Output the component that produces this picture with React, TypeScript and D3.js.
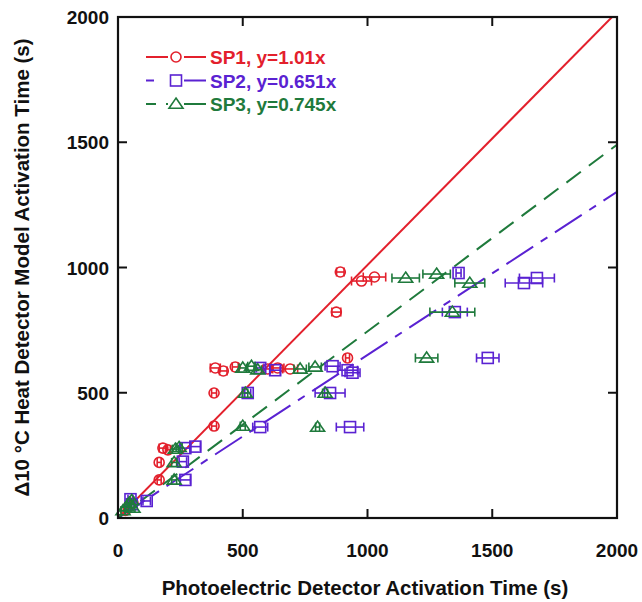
import React from "react";
import * as d3 from "d3";

// ---- data (x, y, x half error) in seconds ----
const sp1X = [891, 976, 1028, 875, 920, 390, 422, 470, 600, 640, 690, 385, 385, 180, 200, 165, 165, 30, 45, 60];
const sp1Y = [982, 946, 962, 822, 639, 599, 587, 603, 595, 599, 595, 499, 367, 279, 272, 222, 152, 30, 50, 60];
const sp1E = [15, 40, 45, 18, 8, 20, 15, 12, 20, 25, 30, 10, 10, 15, 10, 8, 8, 8, 8, 8];

const sp2X = [1365, 1627, 1679, 1350, 1482, 570, 630, 860, 920, 940, 520, 850, 570, 930, 270, 310, 260, 270, 115, 55, 50];
const sp2Y = [978, 938, 958, 822, 639, 599, 590, 606, 590, 580, 499, 499, 363, 363, 279, 285, 225, 152, 68, 55, 75];
const sp2E = [10, 75, 70, 50, 45, 15, 20, 30, 40, 30, 12, 60, 30, 55, 20, 20, 15, 20, 15, 10, 10];

const sp3X = [1153, 1277, 1410, 1340, 1237, 500, 535, 560, 730, 790, 510, 830, 500, 800, 230, 245, 225, 225, 20, 35, 45, 55, 60];
const sp3Y = [958, 974, 938, 822, 639, 599, 606, 592, 595, 603, 499, 499, 367, 363, 275, 282, 222, 152, 30, 45, 60, 70, 40];
const sp3E = [55, 55, 60, 90, 45, 15, 15, 15, 25, 25, 10, 10, 10, 8, 12, 12, 10, 10, 8, 8, 8, 8, 8];

const seriesNames = ["SP1, y=1.01x", "SP2, y=0.651x", "SP3, y=0.745x"];
const slopes = [1.01, 0.651, 0.745];
const ticks = [0, 500, 1000, 1500, 2000];

const colors = ["#e3202c", "#5a22d2", "#1f7a3c"];
const dashes = ["", "32 9 8 9", "18 10"];

const W = 642, H = 602;
const L = 118, R = 617, T = 17, B = 518;

function Marker({ kind, cx, cy, color }: { kind: number; cx: number; cy: number; color: string }) {
  const sw = 1.6;
  if (kind === 0) return <circle cx={cx} cy={cy} r={5} fill="none" stroke={color} strokeWidth={sw} />;
  if (kind === 1) return <rect x={cx - 5.5} y={cy - 5.5} width={11} height={11} fill="none" stroke={color} strokeWidth={sw} />;
  const s = 7;
  return (
    <path
      d={`M${cx},${cy - s * 0.85} L${cx + s},${cy + s * 0.6} L${cx - s},${cy + s * 0.6} Z`}
      fill="none"
      stroke={color}
      strokeWidth={sw}
    />
  );
}

export default function App() {
  const x = d3.scaleLinear().domain([0, 2000]).range([L, R]);
  const y = d3.scaleLinear().domain([0, 2000]).range([B, T]);

  const series = [
    { xs: sp1X, ys: sp1Y, es: sp1E },
    { xs: sp2X, ys: sp2Y, es: sp2E },
    { xs: sp3X, ys: sp3Y, es: sp3E },
  ];

  const line = d3
    .line<[number, number]>()
    .x((d) => x(d[0]))
    .y((d) => y(d[1]));

  const font = "Arial, 'Liberation Sans', Helvetica, sans-serif";
  const tickLen = 9;

  return (
    <svg
      width={W}
      height={H}
      style={{ position: "fixed", left: 0, top: 0, background: "#fff" }}
      fontFamily={font}
    >
      <defs>
        <clipPath id="plotclip">
          <rect x={L} y={T} width={R - L} height={B - T} />
        </clipPath>
      </defs>
      <rect x={0} y={0} width={W} height={H} fill="#fff" />

      {/* fit lines */}
      <g clipPath="url(#plotclip)">
        {slopes.map((s, i) => (
          <path
            key={i}
            d={line([
              [0, 0],
              [2000, 2000 * s],
            ]) as string}
            fill="none"
            stroke={colors[i]}
            strokeWidth={2}
            strokeDasharray={dashes[i]}
          />
        ))}
      </g>

      {/* data points */}
      {series.map((sr, i) => (
        <g key={i}>
          {sr.xs.map((xv, j) => {
            const cx = x(xv);
            const cy = y(sr.ys[j]);
            const x0 = x(xv - sr.es[j]);
            const x1 = x(xv + sr.es[j]);
            return (
              <g key={j}>
                <line x1={x0} x2={x1} y1={cy} y2={cy} stroke={colors[i]} strokeWidth={1.6} />
                <line x1={x0} x2={x0} y1={cy - 4.5} y2={cy + 4.5} stroke={colors[i]} strokeWidth={1.6} />
                <line x1={x1} x2={x1} y1={cy - 4.5} y2={cy + 4.5} stroke={colors[i]} strokeWidth={1.6} />
                <Marker kind={i} cx={cx} cy={cy} color={colors[i]} />
              </g>
            );
          })}
        </g>
      ))}

      {/* frame */}
      <rect x={L} y={T} width={R - L} height={B - T} fill="none" stroke="#111" strokeWidth={2.2} />

      {/* ticks */}
      {ticks.slice(1, -1).map((t) => (
        <g key={t} stroke="#111" strokeWidth={2}>
          <line x1={x(t)} x2={x(t)} y1={B} y2={B - tickLen} />
          <line x1={x(t)} x2={x(t)} y1={T} y2={T + tickLen} />
          <line x1={L} x2={L + tickLen} y1={y(t)} y2={y(t)} />
          <line x1={R} x2={R - tickLen} y1={y(t)} y2={y(t)} />
        </g>
      ))}

      {/* tick labels */}
      {ticks.map((t) => (
        <text key={"x" + t} x={x(t)} y={557} textAnchor="middle" fontSize={19} fontWeight="bold" fill="#111">
          {t}
        </text>
      ))}
      {ticks.map((t) => (
        <text key={"y" + t} x={109} y={y(t) + 7} textAnchor="end" fontSize={19} fontWeight="bold" fill="#111">
          {t}
        </text>
      ))}

      {/* axis titles */}
      <text x={365} y={595} textAnchor="middle" fontSize={20.5} fontWeight="bold" fill="#111">
        Photoelectric Detector Activation Time (s)
      </text>
      <text
        transform={`translate(29, ${(T + B) / 2}) rotate(-90)`}
        textAnchor="middle"
        fontSize={20.5}
        fontWeight="bold"
        fill="#111"
      >
        Δ10 °C Heat Detector Model Activation Time (s)
      </text>

      {/* legend */}
      {seriesNames.map((name, i) => {
        const ly = 57 + i * 23.5;
        return (
          <g key={name}>
            <line x1={146} x2={206} y1={ly} y2={ly} stroke={colors[i]} strokeWidth={2} strokeDasharray={i === 0 ? "" : i === 1 ? "8 14 40" : "10 10 40"} />
            <rect x={168} y={ly - 7} width={16} height={14} fill="#fff" />
            <Marker kind={i} cx={176} cy={ly} color={colors[i]} />
            <text x={210} y={ly + 7} fontSize={19} fontWeight="bold" fill={colors[i]}>
              {name}
            </text>
          </g>
        );
      })}
    </svg>
  );
}
